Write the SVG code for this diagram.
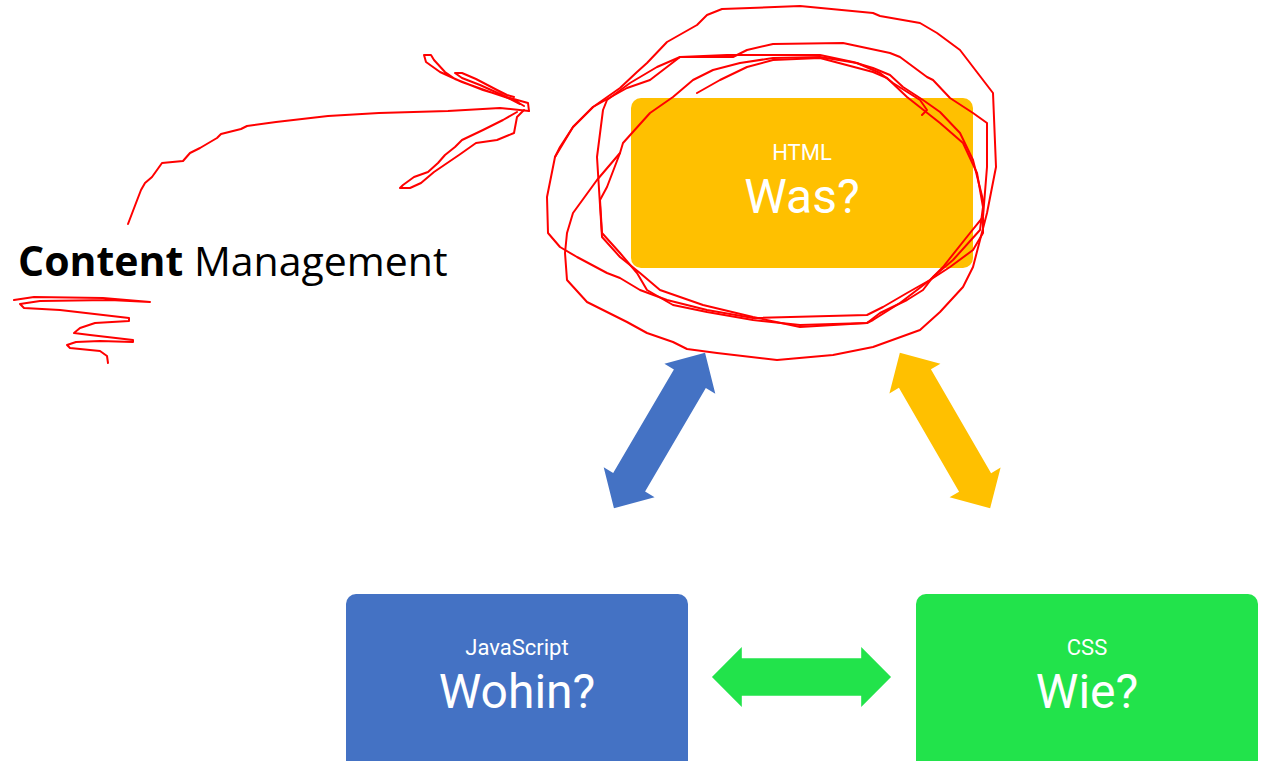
<svg xmlns="http://www.w3.org/2000/svg" xmlns:xlink="http://www.w3.org/1999/xlink" width="1263" height="761" viewBox="0 0 1263 761">
<defs>
<style>
.node-label{font-family:Roboto,"Liberation Sans",sans-serif;fill:#FFFFFF;text-anchor:middle}
.small{font-size:22px}
.big{font-size:48px}
.ink{fill:none;stroke:#FF0000;stroke-width:2;stroke-linejoin:round;stroke-linecap:round}
.title{font-family:"Open Sans","Noto Sans","DejaVu Sans",sans-serif;font-size:41px;fill:#000000}
</style>
<path id="dbl" d="M -90 0 L -60 -29.5 L -60 -18.5 L 60 -18.5 L 60 -29.5 L 90 0 L 60 29.5 L 60 18.5 L -60 18.5 L -60 29.5 Z"/>
</defs>
<rect width="1263" height="761" fill="#FFFFFF"/>

<g id="html">
<rect x="631" y="98" width="342" height="170" rx="10" fill="#FFC000"/>
<text class="node-label small" x="802" y="160">HTML</text>
<text class="node-label big" x="802" y="213">Was?</text>
</g>

<g id="javascript">
<rect x="346" y="594" width="342" height="180" rx="10" fill="#4472C4"/>
<text class="node-label small" x="517" y="655">JavaScript</text>
<text class="node-label big" x="517" y="708">Wohin?</text>
</g>

<g id="css">
<rect x="916" y="594" width="342" height="180" rx="10" fill="#22E34B"/>
<text class="node-label small" x="1087" y="655">CSS</text>
<text class="node-label big" x="1087" y="708">Wie?</text>
</g>

<g id="connectors">
<use xlink:href="#dbl" href="#dbl" fill="#4472C4" transform="translate(659.5 430.5) rotate(-59.6)"/>
<use xlink:href="#dbl" href="#dbl" fill="#FFC000" transform="translate(945 430.5) rotate(59.9)"/>
<use xlink:href="#dbl" href="#dbl" fill="#22E34B" transform="translate(801.5 677) scale(0.995 1.02)"/>
</g>

<g id="content-management">
<text class="title" x="18" y="276"><tspan font-weight="bold">Content</tspan> Management</text>
</g>

<g id="annotations">
<polyline class="ink" points="555,157 573,127 593,107 620,88 637,72 647,63 667,42 697,25 707,15 722,9 800,6 873,13 880,16 920,23 937,33 960,50 983,80 993,93 996,167 987,213 980,240 973,267 963,287 940,312 920,330 873,347 833,355 777,360 717,353 687,349 673,342 647,333 627,322 603,310 587,302 567,280 565,253 567,233 573,213 597,180 620,153 623,143 650,113 673,97 693,80 713,70 740,63 773,58 820,57 857,63 880,73 893,83 920,100 927,110 922,115"/>
<polyline class="ink" points="680,57 727,55 820,55 853,62 873,68 890,75 903,87 923,100 940,112 960,133 973,160 983,200 983,233 973,250 950,267 930,280 907,293 883,307 867,315 753,318 707,310 667,300 640,290 620,278 607,273 577,257 560,247 548,233 547,197 555,157 560,147 573,127 593,107 627,88 650,80 680,57"/>
<polyline class="ink" points="603,110 597,157 602,237 620,257 640,273 660,290 703,305 753,317 800,327 867,323 873,320 900,303 917,290 930,280 943,267 970,233 983,217 987,167 987,123 973,113 950,98 933,80 927,77 900,57 890,53 843,43 773,44 747,50 733,57 680,57 657,67 630,83 607,100 603,110"/>
<polyline class="ink" points="697,93 720,80 747,67 773,60 820,58 873,72 887,78 907,97 940,123 963,143 977,173 983,207 980,230 953,260 933,277 923,290 907,300 880,313 867,323 800,325 753,320 707,312 673,305 647,290 637,273 620,253 602,233 600,200 607,187 620,153"/>
<polyline class="ink" points="128,224 136,203 141,190 145,183 152,177 162,163 183,161 190,153 200,148 217,138 221,134 241,129 247,126 276,122 328,116 379,113 448,111 500,108 529,111"/>
<polyline class="ink" points="529,111 528,103 510,98 483,90 455,79 445,72 434,60 431,55 424,55 426,62 440,72 462,82 490,92 514,100 524,106"/>
<polyline class="ink" points="514,97 507,95 497,90 476,79 462,73 455,73 462,78 480,85 500,94 520,104"/>
<polyline class="ink" points="517,112 503,120 483,130 462,140 455,147 445,155 438,163 428,172 414,177 403,185 400,188 410,188 421,183 434,172 459,155 476,143 497,140 514,133 517,117 524,110"/>
<polyline class="ink" points="14,300 34,297 103,298 150,302 110,300 40,301 20,304 24,308 60,310 129,318 129,321 95,323 80,328 74,333 90,335 133,340 133,342 100,341 76,342 67,345 70,348 100,351 107,356 108,363"/>
</g>
</svg>
